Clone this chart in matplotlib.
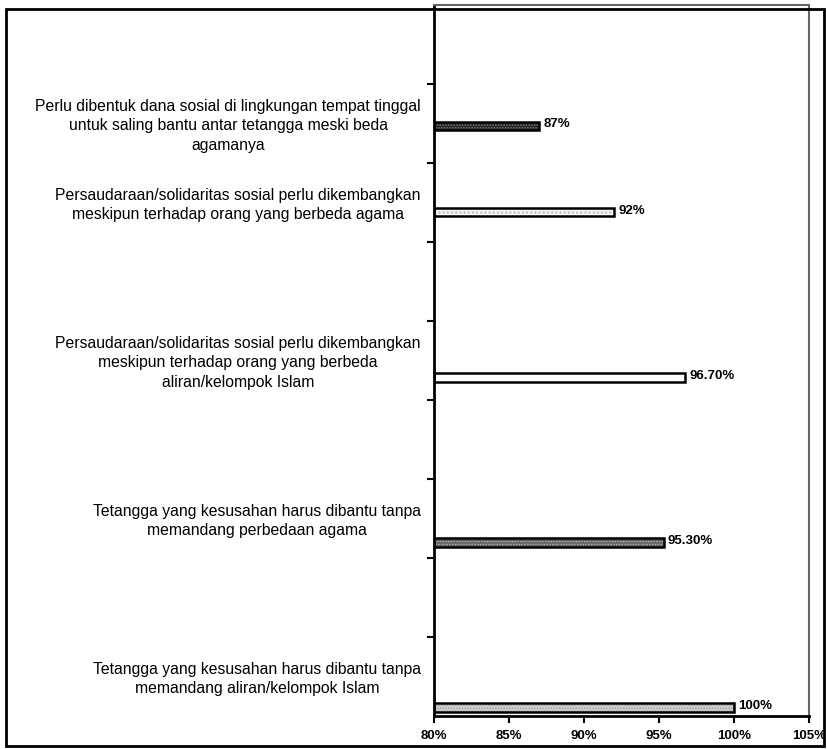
import matplotlib
matplotlib.use("Agg")
import matplotlib.pyplot as plt
from matplotlib.patches import Rectangle

plt.rcParams['font.family'] = ['Liberation Sans', 'DejaVu Sans']

# Statements (one per bar) and the share of respondents agreeing (%)
statements = [
    "Tetangga yang kesusahan harus dibantu tanpa\nmemandang aliran/kelompok Islam",
    "Tetangga yang kesusahan harus dibantu tanpa\nmemandang perbedaan agama",
    "Persaudaraan/solidaritas sosial perlu dikembangkan\nmeskipun terhadap orang yang berbeda\naliran/kelompok Islam",
    "Persaudaraan/solidaritas sosial perlu dikembangkan\nmeskipun terhadap orang yang berbeda agama",
    "Perlu dibentuk dana sosial di lingkungan tempat tinggal\nuntuk saling bantu antar tetangga meski beda\nagamanya",
]
values = [100.0, 95.3, 96.7, 92.0, 87.0]
value_labels = ["100%", "95.30%", "96.70%", "92%", "87%"]
x_ticks = [80, 85, 90, 95, 100, 105]
x_tick_labels = ["80%", "85%", "90%", "95%", "100%", "105%"]

# Layout: category slot for each statement and bar styling per series
slots = [0, 2, 4, 6, 7]
n_slots = 9
series_offset0 = 0.108
series_step = 0.09
bar_h = 0.11
face_colors = ["#d2d2d2", "#5e5e5e", "#ffffff", "#f2f2f2", "#262626"]
hatch_colors = ["#9a9a9a", "#b5b5b5", "#ffffff", "#b0b0b0", "#7a7a7a"]
hatches = ["......", "......", None, "....", "......"]

fig = plt.figure(figsize=(8.28, 7.49), dpi=100)
ax = fig.add_axes([434 / 828, 33 / 749, 375 / 828, 711 / 749])
ax.set_xlim(80, 105)
ax.set_ylim(0, n_slots)

plt.rcParams['hatch.linewidth'] = 0.8
for i, (s, v) in enumerate(zip(slots, values)):
    y = s + series_offset0 + series_step * i
    ax.barh(y, v - 80, left=80, height=bar_h, color=face_colors[i],
            edgecolor="none", linewidth=0, zorder=2)
    if hatches[i]:
        ax.barh(y, v - 80, left=80, height=bar_h, fill=False,
                edgecolor=hatch_colors[i], hatch=hatches[i], linewidth=0,
                zorder=3)
    ax.barh(y, v - 80, left=80, height=bar_h, fill=False,
            edgecolor="black", linewidth=1.8, zorder=4)
    ax.text(v + 0.3, y + 0.02, value_labels[i], fontsize=9.5,
            fontweight="bold", va="center", ha="left", zorder=5)
    ax.text(-0.035, (s + 0.47) / n_slots, statements[i], transform=ax.transAxes,
            ha="right", va="center", multialignment="center",
            fontsize=11.3, linespacing=1.38)

ax.set_xticks(x_ticks)
ax.set_xticklabels(x_tick_labels, fontsize=9.5, fontweight="bold")
ax.tick_params(axis="x", direction="out", length=5, width=1.5, pad=5)
ax.set_yticks(range(1, n_slots))
ax.set_yticklabels([])
ax.tick_params(axis="y", direction="out", length=5, width=1.5)

for side in ("left", "bottom"):
    ax.spines[side].set_linewidth(2.0)
    ax.spines[side].set_color("black")
for side in ("top", "right"):
    ax.spines[side].set_linewidth(1.5)
    ax.spines[side].set_color("#666666")
    ax.spines[side].set_linestyle((0, (1, 1)))

# Outer chart frame
frame = Rectangle((6 / 828, 3 / 749), 818 / 828, 737 / 749,
                  transform=fig.transFigure, fill=False, edgecolor="black",
                  linewidth=2.0, zorder=0)
fig.patches.append(frame)

fig.savefig("out.png", dpi=100)
